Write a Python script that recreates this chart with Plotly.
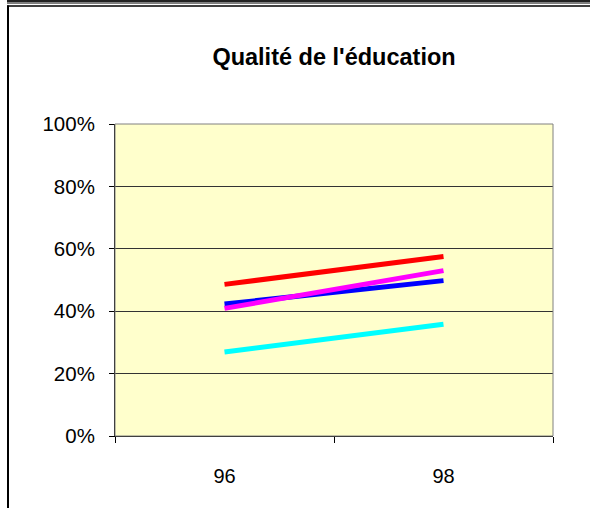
import plotly.graph_objects as go

years = ["96", "98"]
series_names = ["Série rouge", "Série bleue", "Série cyan", "Série magenta"]
series_colors = ["#FF0000", "#0000FF", "#00FFFF", "#FF00FF"]
red_vals = [0.486, 0.575]
blue_vals = [0.423, 0.498]
cyan_vals = [0.269, 0.358]
magenta_vals = [0.409, 0.530]
y_tickvals = [0, 0.2, 0.4, 0.6, 0.8, 1.0]
y_ticktext = ["0%", "20%", "40%", "60%", "80%", "100%"]
title_text = "Qualité de l'éducation"

W, H = 590, 508
L, R, T, B = 115, 37, 124, 72
PW, PH = W - L - R, H - T - B

def px_x(px):
    return (px - L) / PW

def px_y(py):
    return (H - B - py) / PH

fig = go.Figure()
for name, vals, col in zip(series_names,
                           [red_vals, blue_vals, cyan_vals, magenta_vals],
                           series_colors):
    fig.add_trace(go.Scatter(x=years, y=vals, mode="lines", name=name,
                             line=dict(color=col, width=5),
                             hoverinfo="y"))

font_family = "Liberation Sans, Arial, sans-serif"

shapes = [
    dict(type="rect", xref="paper", yref="paper", x0=0, x1=1, y0=0, y1=1,
         line=dict(color="#808080", width=1), layer="above"),
    dict(type="line", xref="paper", yref="paper", x0=px_x(7), x1=px_x(595),
         y0=px_y(1), y1=px_y(1), line=dict(color="#222222", width=2),
         layer="above"),
    dict(type="line", xref="paper", yref="paper", x0=px_x(7), x1=px_x(595),
         y0=px_y(3), y1=px_y(3), line=dict(color="#000000", width=1),
         layer="above"),
    dict(type="line", xref="paper", yref="paper", x0=px_x(7), x1=px_x(595),
         y0=px_y(6), y1=px_y(6), line=dict(color="#000000", width=1.5),
         layer="above"),
    dict(type="line", xref="paper", yref="paper", x0=px_x(8), x1=px_x(8),
         y0=px_y(5.5), y1=px_y(512), line=dict(color="#000000", width=2),
         layer="above"),
]

fig.update_layout(
    width=W, height=H,
    margin=dict(l=L, r=R, t=T, b=B, pad=0),
    paper_bgcolor="white",
    plot_bgcolor="#FFFFCC",
    showlegend=False,
    title=dict(text="<b>" + title_text + "</b>", x=px_x(334), xref="paper",
               xanchor="center", y=1 - 57 / H, yref="container",
               yanchor="middle",
               font=dict(family=font_family, size=23.5, color="black")),
    font=dict(family=font_family, color="black"),
    shapes=shapes,
)

fig.update_xaxes(
    type="category", categoryorder="array", categoryarray=years,
    range=[-0.5, 1.5], tickson="boundaries", ticks="outside", ticklen=6,
    tickcolor="black", showline=True, linecolor="black", linewidth=1,
    showgrid=False, zeroline=False, ticklabelstandoff=22,
    tickfont=dict(family=font_family, size=20, color="black"),
)
fig.update_yaxes(
    range=[0, 1], tickvals=y_tickvals, ticktext=y_ticktext,
    ticks="outside", ticklen=5, tickcolor="black",
    showline=True, linecolor="black", linewidth=1,
    showgrid=True, gridcolor="#333333", gridwidth=1, zeroline=False,
    ticklabelstandoff=10,
    tickfont=dict(family=font_family, size=20.5, color="black"),
)

fig.write_html("out.html",
               config={"displayModeBar": False},
               post_script="document.body.style.margin='0';"
                           "document.body.style.padding='0';")
